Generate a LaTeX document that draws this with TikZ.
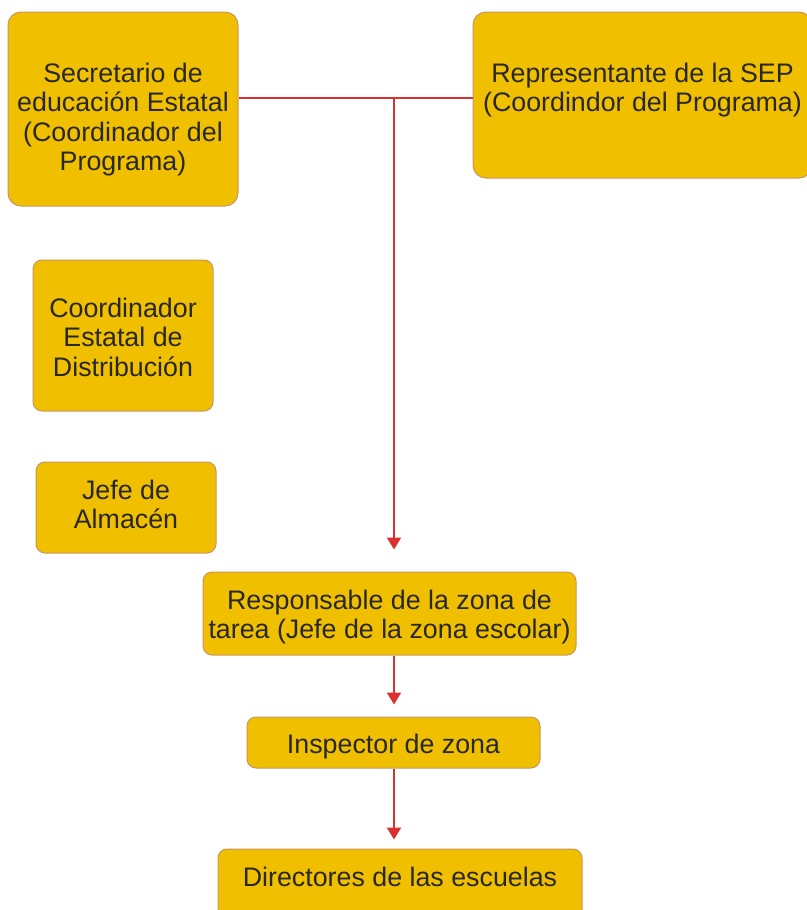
\documentclass[tikz,border=0pt]{standalone}
\usepackage{fontspec}
\setmainfont{Liberation Sans}
\usetikzlibrary{arrows.meta}
\definecolor{amarillo}{RGB}{240,192,0}
\definecolor{borde}{RGB}{200,150,95}
\definecolor{rojo}{RGB}{218,48,48}
\definecolor{letra}{RGB}{40,40,40}
\newcommand{\baja}[1]{\rule{0pt}{#1}}
\tikzset{caja/.style={draw=borde, line width=1pt, fill=amarillo,
    rounded corners=9pt, align=center, text=letra, inner sep=0pt,
    font=\fontsize{26.8}{29.5}\selectfont},
  linea/.style={draw=rojo, line width=2pt},
  flecha/.style={linea, -{Triangle[width=14pt,length=12pt]}},
  }

\begin{document}
\begin{tikzpicture}[x=1pt,y=-1pt]
	\useasboundingbox (0,0) rectangle (806,910);
	% coordinadores
	\node[caja, rounded corners=13pt, minimum width=230pt, minimum height=194pt]
		(secre) at (123,109)
		{\baja{41pt}Secretario de\\educación Estatal\\(Coordinador del\\Programa)};
	\node[caja, rounded corners=13pt, minimum width=339pt, minimum height=166pt,
		text depth=15pt] (repre) at (642.5,95)
		{Representante de la SEP\\(Coordindor del Programa)};
	\node[caja, minimum width=180pt, minimum height=151pt] (coord) at (123,335.5)
		{\baja{23pt}Coordinador\\Estatal de\\Distribución};
	\node[caja, minimum width=180pt, minimum height=91pt, text depth=6pt] (jefe) at (126,507.5)
		{Jefe de\\Almacén};
	% cadena de mando
	\node[caja, minimum width=373pt, minimum height=83pt] (resp) at (389.5,613.5)
		{\baja{27pt}Responsable de la zona de\\tarea (Jefe de la zona escolar)};
	\node[caja, minimum width=293pt, minimum height=51pt] (insp) at (393.5,742.5)
		{\baja{28pt}Inspector de zona};
	\node[caja, minimum width=364pt, minimum height=80pt, text depth=24pt] (dir) at (400,889)
		{Directores de las escuelas};
	\coordinate (union) at (394,98);
	\draw[linea] (secre.east |- union) -- (repre.west |- union);
	\draw[flecha, shorten >=22pt] (union) -- (union |- resp.north);
	\draw[flecha, shorten >=12pt] (union |- resp.south) -- (union |- insp.north);
	\draw[flecha, shorten >=9pt] (union |- insp.south) -- (union |- dir.north);
\end{tikzpicture}
\end{document}
